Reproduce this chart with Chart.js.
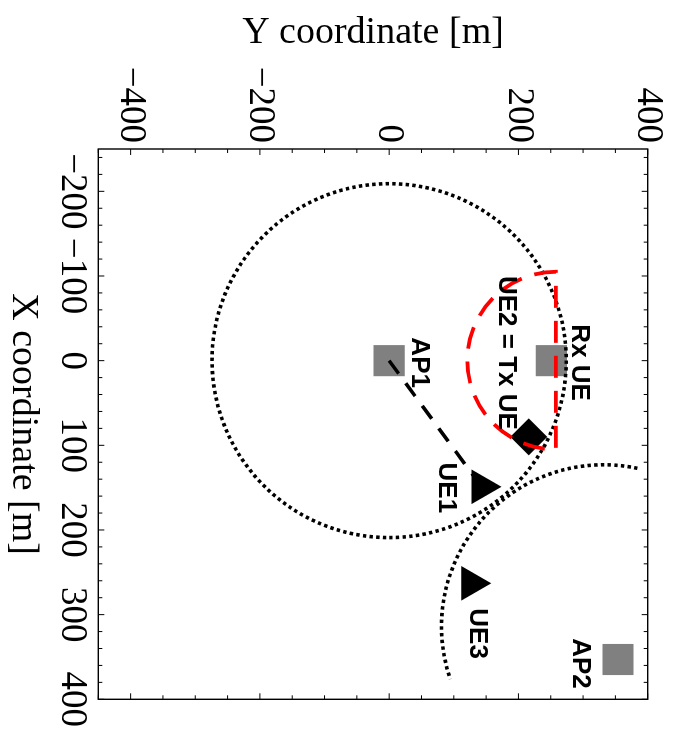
<!DOCTYPE html>
<html>
<head>
<meta charset="utf-8">
<script src="https://cdn.jsdelivr.net/npm/chart.js@4.4.1/dist/chart.umd.min.js"></script>
<style>
  html, body { margin: 0; padding: 0; background: #fff; overflow: hidden; }
  /* the figure is drawn upright and then turned a quarter turn clockwise */
  #wrap {
    position: absolute; left: 0; top: 0; width: 733px; height: 677px;
    transform-origin: 0 0;
    transform: translate(677px, 0) rotate(90deg);
  }
</style>
</head>
<body>
<div id="wrap"><canvas id="plot" width="733" height="677"></canvas></div>
<script>
// positions in metres: X coordinate, Y coordinate
const squareNames = ["AP1", "Rx UE", "AP2"];
const squareX = [0, 0, 353];
const squareY = [0, 251, 354];

const triangleNames = ["UE1", "UE3"];
const triangleX = [149, 263];
const triangleY = [143, 127];

const diamondNames = ["UE2 = Tx UE"];
const diamondX = [90];
const diamondY = [216];

// dashed link AP1 -> UE1
const linkX = [0, 149];
const linkY = [0, 143];

// dotted rings: centre, radii (X, Y) and arc span in degrees
const ringX = [0, 314];
const ringY = [0, 332];
const ringRX = [209, 191];
const ringRY = [274, 251];
const ringFrom = [0, 168];
const ringTo = [360, 289];

// red dashed half ring at the Rx UE
const halfX = 0;
const halfY = 258;
const halfRX = 105;
const halfRY = 137;

const xTicks = [-200, -100, 0, 100, 200, 300, 400];
const yTicks = [-400, -200, 0, 200, 400];

const fmt = (v) => (v < 0 ? "\u2212" + Math.abs(v) : String(v));
const pts = (xa, ya) => xa.map((x, i) => ({ x: x, y: ya[i] }));

Chart.defaults.font.family = "'Liberation Serif', 'Times New Roman', serif";
Chart.defaults.color = "#000";

// label offsets in pixels from the marker (upright drawing)
const labelStyle = {
  "AP1": { dx: 2, dy: -30, align: "center" },
  "Rx UE": { dx: 2, dy: -28, align: "center" },
  "AP2": { dx: 4, dy: 38, align: "center" },
  "UE1": { dx: 1, dy: 35, align: "center" },
  "UE3": { dx: 25, dy: -6, align: "left" },
  "UE2 = Tx UE": { dx: -7, dy: 23, align: "right" },
};

const framePlugin = {
  id: "frame",
  afterDatasetsDraw(chart) {
    const { ctx, chartArea: a, scales } = chart;
    ctx.save();
    ctx.strokeStyle = "#000";
    ctx.lineWidth = 1;
    ctx.beginPath();
    for (let v = -240; v <= 400; v += 20) {
      const p = scales.x.getPixelForValue(v);
      const len = v % 100 === 0 ? 6 : 4;
      ctx.moveTo(p, a.bottom); ctx.lineTo(p, a.bottom - len);
      ctx.moveTo(p, a.top); ctx.lineTo(p, a.top + len);
    }
    for (let v = -450; v <= 400; v += 50) {
      const p = scales.y.getPixelForValue(v);
      const len = v % 200 === 0 ? 6 : 4;
      ctx.moveTo(a.left, p); ctx.lineTo(a.left + len, p);
      ctx.moveTo(a.right, p); ctx.lineTo(a.right - len, p);
    }
    ctx.stroke();
    ctx.lineWidth = 1.4;
    ctx.strokeRect(a.left, a.top, a.right - a.left, a.bottom - a.top);
    ctx.restore();
  },
};

const shapesPlugin = {
  id: "shapes",
  afterDatasetsDraw(chart) {
    const { ctx, scales } = chart;
    const sx = scales.x, sy = scales.y;
    const rad = Math.PI / 180;
    ctx.save();
    ctx.beginPath();
    ctx.rect(chart.chartArea.left, chart.chartArea.top,
      chart.chartArea.right - chart.chartArea.left, chart.chartArea.bottom - chart.chartArea.top);
    ctx.clip();

    // dotted rings
    ctx.strokeStyle = "#000";
    ctx.lineWidth = 3.6;
    ctx.setLineDash([3.4, 3.3]);
    ringX.forEach((cx, i) => {
      const cu = sx.getPixelForValue(cx);
      const cv = sy.getPixelForValue(ringY[i]);
      const ru = Math.abs(sx.getPixelForValue(cx + ringRX[i]) - cu);
      const rv = Math.abs(sy.getPixelForValue(ringY[i] + ringRY[i]) - cv);
      ctx.beginPath();
      ctx.ellipse(cu, cv, ru, rv, 0, -ringFrom[i] * rad, -ringTo[i] * rad, true);
      ctx.stroke();
    });

    // red dashed half ring, closed by its diameter
    const hu = sx.getPixelForValue(halfX);
    const hv = sy.getPixelForValue(halfY);
    const hru = Math.abs(sx.getPixelForValue(halfX + halfRX) - hu);
    const hrv = Math.abs(sy.getPixelForValue(halfY + halfRY) - hv);
    ctx.strokeStyle = "#ff0000";
    ctx.lineWidth = 3.8;
    ctx.setLineDash([22, 13]);
    ctx.beginPath();
    ctx.ellipse(hu, hv, hru, hrv, 0, -180 * rad, -360 * rad, true);
    ctx.closePath();
    ctx.stroke();
    ctx.restore();

    // text labels
    ctx.save();
    ctx.font = "bold 26px 'Liberation Sans', Arial, sans-serif";
    ctx.fillStyle = "#000";
    ctx.textBaseline = "middle";
    const put = (names, xa, ya) => names.forEach((n, i) => {
      const s = labelStyle[n];
      ctx.textAlign = s.align;
      ctx.fillText(n, sx.getPixelForValue(xa[i]) + s.dx, sy.getPixelForValue(ya[i]) + s.dy);
    });
    put(squareNames, squareX, squareY);
    put(triangleNames, triangleX, triangleY);
    put(diamondNames, diamondX, diamondY);
    ctx.restore();
  },
};

new Chart(document.getElementById("plot"), {
  type: "scatter",
  data: {
    datasets: [
      {
        label: "AP1 - UE1",
        data: pts(linkX, linkY),
        showLine: true,
        borderColor: "#000",
        borderWidth: 3.6,
        borderDash: [16, 12],
        pointRadius: 0,
        order: 0,
      },
      {
        label: "AP / Rx UE",
        data: pts(squareX, squareY),
        pointStyle: "rect",
        pointRadius: 22,
        backgroundColor: "#808080",
        borderWidth: 0,
        order: 1,
      },
      {
        label: "UE2",
        data: pts(diamondX, diamondY),
        pointStyle: "rectRot",
        pointRadius: 18.5,
        backgroundColor: "#000",
        borderWidth: 0,
        order: 1,
      },
      {
        label: "UE1, UE3",
        data: pts(triangleX, triangleY),
        pointStyle: "triangle",
        pointRadius: 20,
        backgroundColor: "#000",
        borderWidth: 0,
        order: 1,
      },
    ],
  },
  options: {
    responsive: false,
    animation: false,
    events: [],
    layout: { padding: { left: 0, top: 29.3, right: 33.7, bottom: 0 } },
    plugins: { legend: { display: false }, tooltip: { enabled: false } },
    scales: {
      x: {
        type: "linear",
        position: "bottom",
        min: -250,
        max: 400,
        afterBuildTicks: (s) => { s.ticks = xTicks.map((v) => ({ value: v })); },
        afterFit: (s) => { s.height = 98.3; },
        grid: { display: false, drawTicks: false },
        border: { display: false },
        ticks: { autoSkip: false, maxRotation: 0, minRotation: 0, padding: 4,
          font: { size: 37 }, callback: (v) => fmt(v) },
        title: { display: true, text: "X coordinate [m]", font: { size: 38 }, padding: 0 },
      },
      y: {
        type: "linear",
        position: "left",
        min: -450,
        max: 400,
        afterBuildTicks: (s) => { s.ticks = yTicks.map((v) => ({ value: v })); },
        afterFit: (s) => { s.width = 149; },
        grid: { display: false, drawTicks: false },
        border: { display: false },
        ticks: { autoSkip: false, padding: 6, font: { size: 37 }, callback: (v) => fmt(v) },
        title: { display: true, text: "Y coordinate [m]", font: { size: 38 }, padding: { top: 10, bottom: 0 } },
      },
    },
  },
  plugins: [framePlugin, shapesPlugin],
});
</script>
</body>
</html>
